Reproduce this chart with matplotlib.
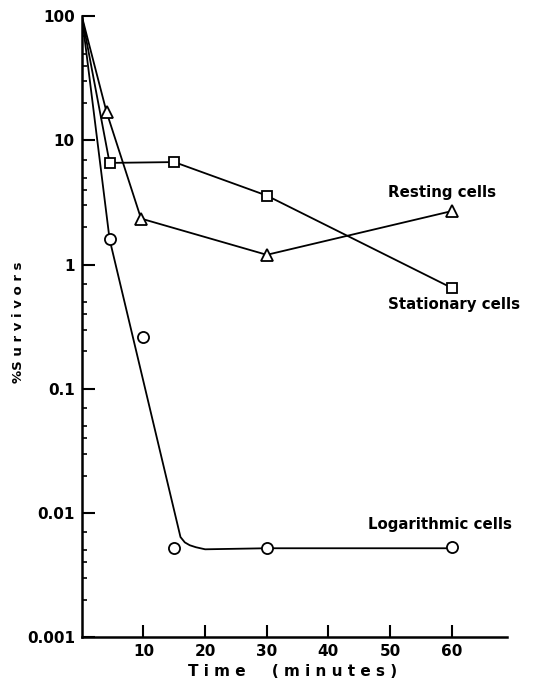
import matplotlib.pyplot as plt
import matplotlib.ticker as ticker

# resting cells (triangles)
rest_t = [0, 4, 9.6, 30, 60]
rest_v = [100, 17, 2.35, 1.2, 2.7]

# stationary cells (squares)
stat_t = [0, 4.5, 15, 30, 60]
stat_v = [100, 6.6, 6.7, 3.6, 0.65]

# logarithmic cells (circles, points not all on the line)
log_t = [4.5, 10, 15, 30, 60]
log_v = [1.6, 0.26, 0.0052, 0.0052, 0.0053]
# hand drawn fit curve for the log cells
fit_t = [0, 4.5, 16, 16.7, 17.5, 18.5, 20, 30, 60]
fit_v = [100, 1.6, 0.0064, 0.0058, 0.0055, 0.0053, 0.0051, 0.0052, 0.0052]

yticks = [100, 10, 1, 0.1, 0.01, 0.001]
ytick_labels = ["100", "10", "1", "0.1", "0.01", "0.001"]
xticks = [10, 20, 30, 40, 50, 60]

plt.rcParams['font.family'] = 'DejaVu Sans'
fig = plt.figure(figsize=(5.35, 6.8), dpi=100)
ax = fig.add_axes([0.153, 0.063, 0.795, 0.913])

lw = 1.3
ax.plot(rest_t[1:], rest_v[1:], marker="^", ms=8, mfc="white", mec="black",
        mew=1.3, linestyle="none", zorder=3)
ax.plot(rest_t, rest_v, color="black", lw=lw)
ax.plot(stat_t[1:], stat_v[1:], marker="s", ms=6.5, mfc="white", mec="black",
        mew=1.3, linestyle="none", zorder=3)
ax.plot(stat_t, stat_v, color="black", lw=lw)
ax.plot(fit_t, fit_v, color="black", lw=lw)
ax.plot(log_t, log_v, marker="o", ms=8, mfc="white", mec="black",
        mew=1.3, linestyle="none", zorder=3)

ax.set_yscale("log")
ax.set_ylim(0.001, 100)
ax.set_xlim(0, 69)

ax.yaxis.set_major_locator(ticker.FixedLocator(yticks))
ax.yaxis.set_major_formatter(ticker.FixedFormatter(ytick_labels))
ax.yaxis.set_minor_locator(ticker.LogLocator(base=10, subs=[2, 3, 4, 5, 7]))
ax.yaxis.set_minor_formatter(ticker.NullFormatter())
ax.set_xticks(xticks)

for s in ["top", "right"]:
    ax.spines[s].set_visible(False)
for s in ["left", "bottom"]:
    ax.spines[s].set_linewidth(1.8)

ax.tick_params(axis="both", which="major", direction="in", length=9, width=1.5,
               labelsize=11, pad=5)
ax.tick_params(axis="y", which="minor", direction="in", length=3.5, width=1.2)
for lab in ax.get_xticklabels() + ax.get_yticklabels():
    lab.set_fontweight("bold")

ax.text(49.6, 3.8, "Resting cells", fontsize=10.8, fontweight="bold",
        ha="left", va="center")
ax.text(49.6, 0.48, "Stationary cells", fontsize=10.8, fontweight="bold",
        ha="left", va="center")
ax.text(46.4, 0.0081, "Logarithmic cells", fontsize=10.8, fontweight="bold",
        ha="left", va="center")

fig.text(0.546, 0.012, "T i m e     ( m i n u t e s )", fontsize=11,
         fontweight="bold", ha="center", va="center")
fig.text(0.035, 0.526, "%S u r v i v o r s", fontsize=9.5, fontweight="bold",
         rotation=90, ha="center", va="center")

fig.savefig("out.png", dpi=100)
